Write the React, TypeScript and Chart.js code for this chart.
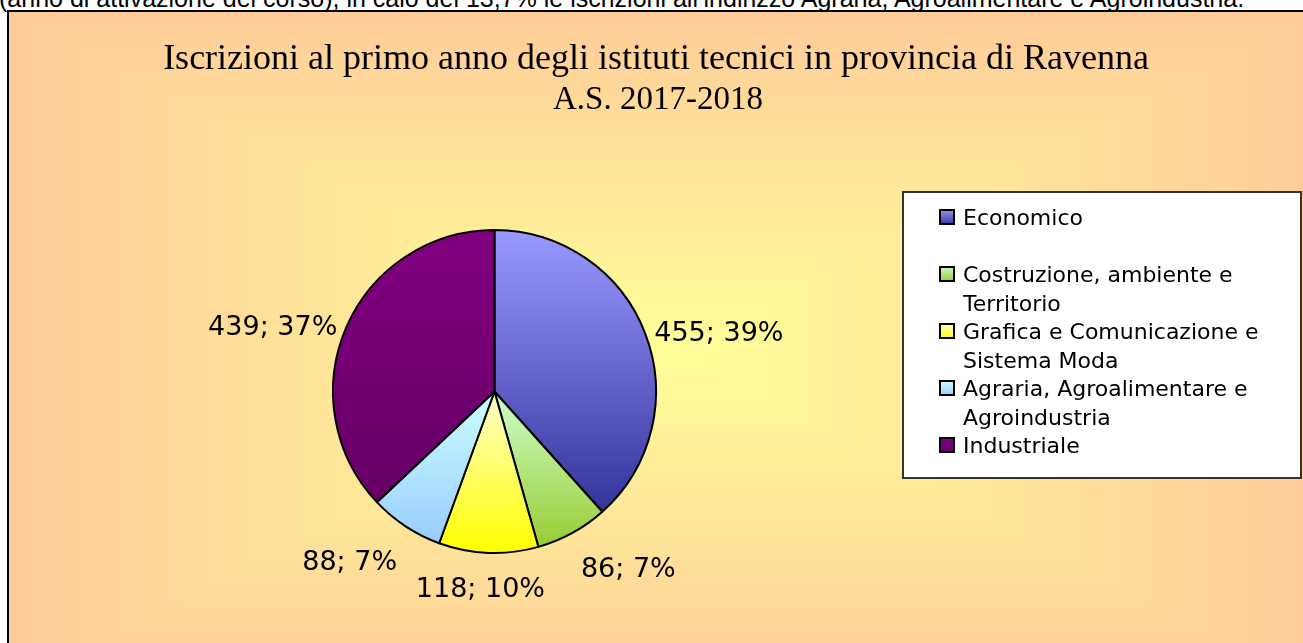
import React, { useEffect, useRef } from "react";
import { Chart, registerables } from "chart.js";

Chart.register(...registerables);

// ---- data ----
const categories = [
  "Economico",
  "Costruzione, ambiente e Territorio",
  "Grafica e Comunicazione e Sistema Moda",
  "Agraria, Agroalimentare e Agroindustria",
  "Industriale",
];
const enrolments = [455, 86, 118, 88, 439];
const percentLabels = ["39%", "7%", "10%", "7%", "37%"];
const titleLines = [
  "Iscrizioni al primo anno degli istituti tecnici in provincia di Ravenna",
  "A.S. 2017-2018",
];
const introText =
  "(anno di attivazione del corso), in calo del 13,7% le iscrizioni all\u2019indirizzo Agraria, Agroalimentare e Agroindustria.";

// ---- styles ----
const gradientTops = ["#9999FF", "#CCFFCC", "#FFFFCC", "#CCFFFF", "#800080"];
const gradientBottoms = ["#333399", "#99CC33", "#FFFF00", "#99CCFF", "#660066"];
const BG_CENTER = [0xff, 0xff, 0x99];
const BG_EDGE = [0xff, 0xcc, 0x99];
const titleFontSizes = [36, 33];

const W = 1296;
const H = 633;

const LABEL_FONT = 27;
const LEGEND_FONT = 22;

function wrapText(ctx: CanvasRenderingContext2D, text: string, maxWidth: number): string[] {
  const words = text.split(" ");
  const lines: string[] = [];
  let cur = "";
  for (const w of words) {
    const test = cur ? cur + " " + w : w;
    if (cur && ctx.measureText(test).width > maxWidth) {
      lines.push(cur);
      cur = w;
    } else cur = test;
  }
  if (cur) lines.push(cur);
  return lines;
}

let bgCache: HTMLCanvasElement | null = null;
const backgroundPlugin = {
  id: "bgRect",
  beforeDraw(chart: any) {
    const ctx: CanvasRenderingContext2D = chart.ctx;
    if (!bgCache) {
      const off = document.createElement("canvas");
      off.width = W;
      off.height = H;
      const octx = off.getContext("2d")!;
      const img = octx.createImageData(W, H);
      const cx = 656, cy = 340, hw = 656, hh = 340;
      for (let y = 0; y < H; y++) {
        for (let x = 0; x < W; x++) {
          let t = Math.max(Math.abs(x - cx) / hw, Math.abs(y - cy) / hh);
          if (t > 1) t = 1;
          const p = (y * W + x) * 4;
          img.data[p] = BG_CENTER[0] + (BG_EDGE[0] - BG_CENTER[0]) * t;
          img.data[p + 1] = BG_CENTER[1] + (BG_EDGE[1] - BG_CENTER[1]) * t;
          img.data[p + 2] = BG_CENTER[2] + (BG_EDGE[2] - BG_CENTER[2]) * t;
          img.data[p + 3] = 255;
        }
      }
      octx.putImageData(img, 0, 0);
      bgCache = off;
    }
    ctx.save();
    ctx.drawImage(bgCache, 0, 0);
    ctx.fillStyle = "#000000";
    ctx.fillRect(0, 0, W, 2);
    ctx.fillRect(0, 0, 2, H);
    ctx.restore();
  },
};

const sliceGradientPlugin = {
  id: "sliceGradient",
  beforeDatasetsDraw(chart: any) {
    const ctx: CanvasRenderingContext2D = chart.ctx;
    const meta = chart.getDatasetMeta(0);
    meta.data.forEach((el: any, i: number) => {
      const { x, y, startAngle, endAngle, outerRadius } = el.getProps(
        ["x", "y", "startAngle", "endAngle", "outerRadius"],
        true
      );
      const ys = [y, y + outerRadius * Math.sin(startAngle), y + outerRadius * Math.sin(endAngle)];
      for (let k = -4; k <= 8; k++) {
        const a = (k * Math.PI) / 2;
        if (a > startAngle && a < endAngle) ys.push(y + outerRadius * Math.sin(a));
      }
      const g = ctx.createLinearGradient(0, Math.min(...ys), 0, Math.max(...ys));
      g.addColorStop(0, gradientTops[i]);
      g.addColorStop(1, gradientBottoms[i]);
      el.options = Object.assign({}, el.options, { backgroundColor: g });
    });
  },
};

const smooth = (e0: number, e1: number, v: number) => {
  const t = Math.min(1, Math.max(0, (v - e0) / (e1 - e0)));
  return t * t * (3 - 2 * t);
};

const labelPlugin = {
  id: "sliceLabels",
  afterDatasetsDraw(chart: any) {
    const ctx: CanvasRenderingContext2D = chart.ctx;
    const meta = chart.getDatasetMeta(0);
    ctx.save();
    ctx.font = `${LABEL_FONT}px 'DejaVu Sans'`;
    ctx.fillStyle = "#000000";
    ctx.textAlign = "center";
    ctx.textBaseline = "alphabetic";
    const h = LABEL_FONT * 0.729;
    meta.data.forEach((el: any, i: number) => {
      const { x, y, startAngle, endAngle, outerRadius } = el.getProps(
        ["x", "y", "startAngle", "endAngle", "outerRadius"],
        true
      );
      const mid = (startAngle + endAngle) / 2;
      const dx = Math.cos(mid);
      const dy = Math.sin(mid);
      const px = x + (outerRadius + 1) * dx;
      const py = y + (outerRadius + 1) * dy;
      const text = `${enrolments[i]}; ${percentLabels[i]}`;
      const w = ctx.measureText(text).width;
      const fx = Math.max(-1, Math.min(1, dx * 3));
      const fy = Math.sign(dy) * smooth(0.45, 0.8, Math.abs(dy));
      const cx = px + fx * (w / 2 + 8);
      const cy = py + fy * (h / 2 + 25) - 2;
      ctx.fillText(text, cx, cy + h / 2);
    });
    ctx.restore();
  },
};

const titlePlugin = {
  id: "titleText",
  afterDraw(chart: any) {
    const ctx: CanvasRenderingContext2D = chart.ctx;
    ctx.save();
    ctx.fillStyle = "#000000";
    ctx.textAlign = "center";
    ctx.textBaseline = "alphabetic";
    titleLines.forEach((line, i) => {
      ctx.font = `${titleFontSizes[i]}px 'Liberation Serif'`;
      ctx.fillText(line, 649 + i * 2, 59 + i * 40);
    });
    ctx.restore();
  },
};

const legendPlugin = {
  id: "boxLegend",
  afterDraw(chart: any) {
    const ctx: CanvasRenderingContext2D = chart.ctx;
    const box = { x: 896, y: 182, w: 398, h: 286 };
    ctx.save();
    ctx.fillStyle = "#FFFFFF";
    ctx.fillRect(box.x, box.y, box.w, box.h);
    ctx.strokeStyle = "#333333";
    ctx.lineWidth = 2;
    ctx.strokeRect(box.x, box.y, box.w, box.h);

    ctx.font = `${LEGEND_FONT}px 'DejaVu Sans'`;
    ctx.textAlign = "left";
    ctx.textBaseline = "alphabetic";
    const textX = box.x + 60;
    const maxW = box.x + box.w - textX - 8;
    const wrapped = categories.map((c) => wrapText(ctx, c, maxW));
    const maxLines = Math.max(...wrapped.map((l) => l.length));
    const lineH = 28.5;
    const capH = LEGEND_FONT * 0.729;
    let lineY = box.y + 25;
    wrapped.forEach((lines, i) => {
      const my = lineY;
      const mx = box.x + 36;
      const g = ctx.createLinearGradient(0, my - 8, 0, my + 8);
      g.addColorStop(0, gradientTops[i]);
      g.addColorStop(1, gradientBottoms[i]);
      ctx.fillStyle = g;
      ctx.fillRect(mx, my - 8, 16, 16);
      ctx.strokeStyle = "#000000";
      ctx.lineWidth = 2;
      ctx.strokeRect(mx + 1, my - 7, 14, 14);
      ctx.fillStyle = "#000000";
      lines.forEach((ln, j) => {
        ctx.fillText(ln, textX, lineY + j * lineH + capH / 2);
      });
      lineY += maxLines * lineH;
    });
    ctx.restore();
  },
};

export default function App() {
  const ref = useRef<HTMLCanvasElement>(null);
  useEffect(() => {
    const canvas = ref.current!;
    const chart = new Chart(canvas, {
      type: "pie",
      data: {
        labels: categories,
        datasets: [
          {
            data: enrolments,
            backgroundColor: gradientTops,
            borderColor: "#000000",
            borderWidth: 2,
          },
        ],
      },
      options: {
        responsive: false,
        animation: false,
        events: [],
        layout: { padding: { left: 325, top: 219, right: 646, bottom: 89 } },
        plugins: {
          legend: { display: false },
          title: { display: false },
          tooltip: { enabled: false },
        },
      },
      plugins: [backgroundPlugin, sliceGradientPlugin, labelPlugin, titlePlugin, legendPlugin],
    } as any);
    return () => chart.destroy();
  }, []);

  return (
    <div
      style={{
        position: "absolute",
        left: 0,
        top: 0,
        width: 1303,
        height: 643,
        overflow: "hidden",
        background: "#ffffff",
      }}
    >
      <div
        style={{
          position: "absolute",
          left: -1,
          top: -16,
          font: "25px 'Liberation Sans'",
          lineHeight: "28px",
          whiteSpace: "nowrap",
          color: "#000000",
        }}
      >
        {introText}
      </div>
      <canvas
        ref={ref}
        width={W}
        height={H}
        style={{ position: "absolute", left: 7, top: 10, width: W, height: H }}
      />
    </div>
  );
}
